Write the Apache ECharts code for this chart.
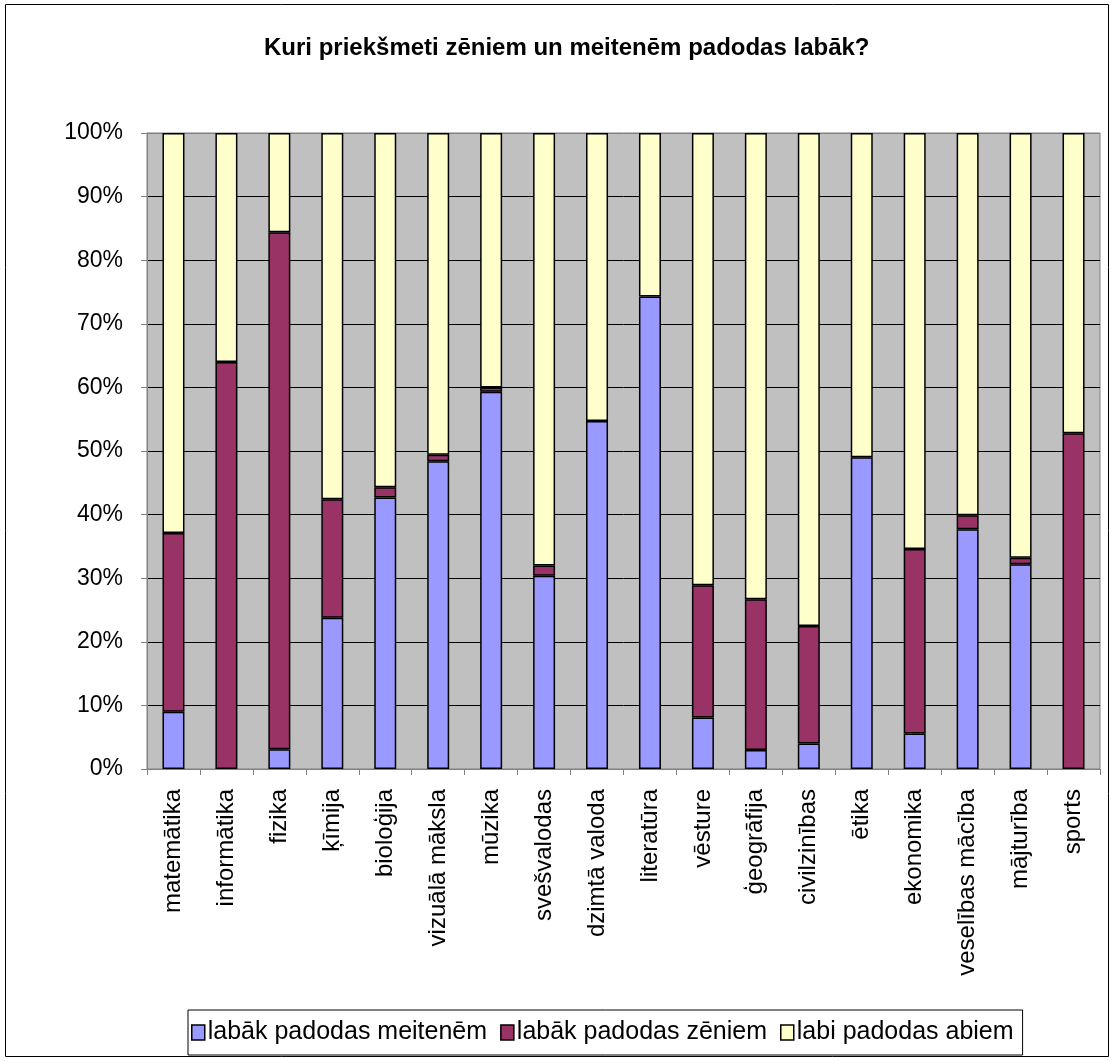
<!DOCTYPE html>
<html>
<head>
<meta charset="utf-8">
<script src="https://cdn.jsdelivr.net/npm/echarts@6/dist/echarts.min.js"></script>
<style>
html,body{margin:0;padding:0;background:#fff;}
#c{width:1114px;height:1061px;}
</style>
</head>
<body>
<div id="c"></div>
<script>
const titleText = 'Kuri priekšmeti zēniem un meitenēm padodas labāk?';
const categories = ['matemātika','informātika','fizika','ķīmija','bioloģija','vizuālā māksla','mūzika','svešvalodas','dzimtā valoda','literatūra','vēsture','ģeogrāfija','civilzinības','ētika','ekonomika','veselības mācība','mājturība','sports'];
const seriesNames = ['labāk padodas meitenēm','labāk padodas zēniem','labi padodas abiem'];
const girls = [9.0, 0, 3.1, 23.8, 42.7, 48.4, 59.3, 30.4, 54.7, 74.3, 8.1, 3.0, 4.0, 49.0, 5.6, 37.7, 32.2, 0];
const boys  = [28.1, 64.0, 81.3, 18.6, 1.6, 1.0, 0.7, 1.6, 0, 0, 20.8, 23.7, 18.5, 0, 29.0, 2.2, 1.0, 52.8];
const both  = [62.9, 36.0, 15.6, 57.6, 55.7, 50.6, 40.0, 68.0, 45.3, 25.7, 71.1, 73.3, 77.5, 51.0, 65.4, 60.1, 66.8, 47.2];
const yTicks = [0,10,20,30,40,50,60,70,80,90,100];
const colors = ['#9999FF','#993366','#FFFFCC'];

const font = 'Liberation Sans, Arial, sans-serif';
const chart = echarts.init(document.getElementById('c'), null, {renderer:'canvas'});
const values = [girls, boys, both];
chart.setOption({
  backgroundColor:'#fff',
  animation:false,
  title:{
    text:titleText, left:264, top:36, padding:0,
    textStyle:{fontFamily:font, fontSize:24, fontWeight:'bold', color:'#000'}
  },
  graphic:[{
    type:'rect', shape:{x:5.5,y:4.5,width:1103,height:1052},
    style:{fill:'none', stroke:'#000', lineWidth:1}, silent:true, z:-1
  }],
  legend:{
    data:seriesNames, left:188, top:1010, orient:'horizontal',
    padding:[10,9,10,3], itemGap:13, itemWidth:13, itemHeight:15,
    borderColor:'#000', borderWidth:1, icon:'rect',
    itemStyle:{borderColor:'#000', borderWidth:1.5},
    textStyle:{fontFamily:font, fontSize:25, color:'#000', padding:[0,0,0,-2]}
  },
  grid:{
    left:147, top:133, right:14, bottom:292, show:true,
    backgroundColor:'#C0C0C0', borderColor:'#808080', borderWidth:1
  },
  xAxis:{
    type:'category', data:categories, boundaryGap:true,
    axisLine:{lineStyle:{color:'#808080', width:1}},
    axisTick:{show:true, alignWithLabel:false, length:6, lineStyle:{color:'#808080'}},
    axisLabel:{rotate:90, margin:20, interval:0, fontFamily:font, fontSize:24, color:'#000'}
  },
  yAxis:{
    type:'value', min:yTicks[0], max:yTicks[yTicks.length-1], interval:10,
    axisLine:{show:true, lineStyle:{color:'#808080'}},
    axisTick:{show:true, length:6, lineStyle:{color:'#808080'}},
    axisLabel:{formatter:'{value}%', margin:24, fontFamily:font, fontSize:23, color:'#000'},
    splitLine:{show:true, lineStyle:{color:['#808080','#000','#000','#000','#000','#000','#000','#000','#000','#000','#808080'], width:1}}
  },
  series: seriesNames.map((n,i)=>({
    name:n, type:'bar', stack:'total',
    data:values[i].map(v => v === 0 ? '-' : v), barWidth:22,
    itemStyle:{color:colors[i], borderColor:'#000', borderWidth:1.5}
  }))
});
</script>
</body>
</html>
